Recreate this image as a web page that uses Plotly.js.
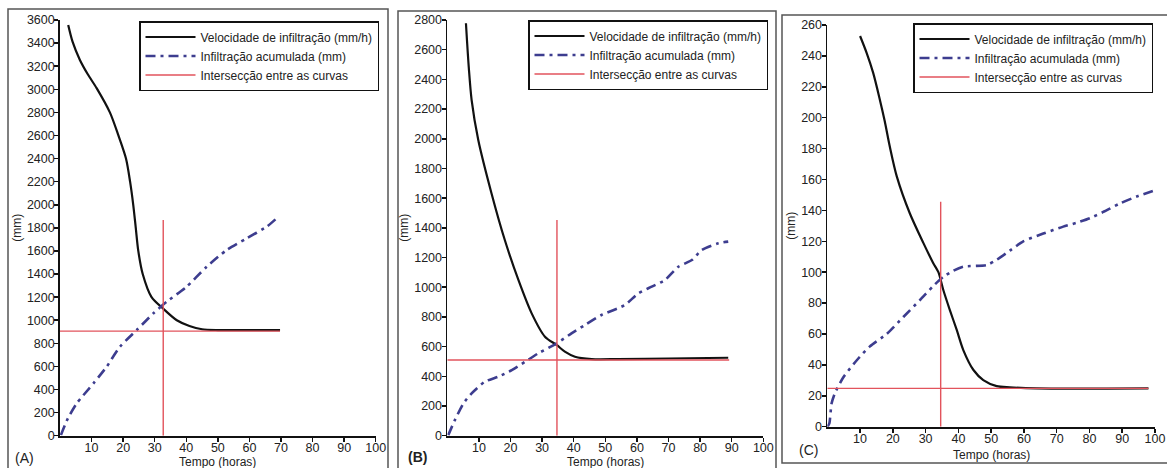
<!DOCTYPE html>
<html>
<head>
<meta charset="utf-8">
<script src="https://cdn.plot.ly/plotly-3.0.1.min.js"></script>
<style>html,body{margin:0;padding:0;background:#fff;}#chart{width:1167px;height:468px;}</style>
</head>
<body>
<div id="chart"></div>
<script>
// Panel A
const aVelX = [2.6, 4, 6.3, 8.8, 11.6, 15.8, 18.5, 20.9, 22.2, 23.2, 24, 24.8, 26.2, 29, 32.7, 37, 41, 45, 50, 60, 69.7];
const aVelY = [3557, 3410, 3254, 3130, 3010, 2800, 2600, 2400, 2200, 2000, 1800, 1600, 1400, 1200, 1100, 1000, 950, 922, 915, 915, 915];
const aCumX = [0.3, 2.5, 5.3, 10.6, 14.8, 19, 24.3, 29.6, 33.8, 40.1, 46.5, 52.8, 59.1, 65.5, 68.6];
const aCumY = [6, 150, 280, 453, 598, 771, 915, 1060, 1160, 1290, 1464, 1608, 1709, 1810, 1882];
const aCrossX = [0, 69.7, null, 32.7, 32.7];
const aCrossY = [906, 906, null, 0, 1868];
// Panel B
const bVelX = [5.9, 6.8, 7.7, 9.8, 14, 18.2, 22.5, 26.7, 30.9, 34.6, 37.2, 40.4, 45.7, 54.1, 70, 88.9];
const bVelY = [2778, 2480, 2261, 1992, 1632, 1318, 1049, 824, 667, 611, 566, 532, 516, 516, 520, 525];
const bCumX = [0.3, 2.4, 5.1, 7.7, 11.9, 16.1, 20.4, 24.6, 28.8, 34.6, 39.3, 43.6, 48.8, 56.2, 60.4, 64.7, 68.9, 73.1, 77.4, 80.5, 85.8, 88.9];
const bCumY = [4, 105, 218, 285, 364, 397, 442, 498, 555, 622, 689, 746, 813, 880, 958, 1004, 1049, 1138, 1183, 1250, 1296, 1307];
const bCrossX = [0, 89.2, null, 34.7, 34.7];
const bCrossY = [510, 510, null, 0, 1453];
// Panel C
const cVelX = [10, 12, 14, 16, 17.5, 19.1, 21.2, 25.2, 29.3, 32.3, 33.9, 35.4, 37.4, 39.5, 41.5, 44.6, 47.6, 51.7, 55.7, 63.9, 98];
const cVelY = [252.9, 242, 229, 212, 198, 181, 162, 138, 119, 106, 100, 88.5, 75.5, 62.6, 49.6, 36.7, 30.2, 26.3, 25.5, 24.8, 24.8];
const cCumX = [0, 0.6, 1.3, 2.3, 4.9, 9, 13, 18.1, 23.2, 28.3, 32.3, 35.4, 38.5, 41.5, 48.6, 51.7, 55.7, 59.8, 65.9, 72, 76.1, 80.2, 84.2, 89.3, 94.4, 100];
const cCumY = [0, 2, 15, 21.6, 32, 43, 52, 60, 71, 82, 91, 97, 101, 103.6, 104.6, 108, 114, 120, 125, 129.5, 132, 135, 139, 144.5, 149, 153];
const cCrossX = [0, 98, null, 34.6, 34.6];
const cCrossY = [24.8, 24.8, null, 0, 145.6];

const seriesNames = ['Velocidade de infiltração (mm/h)', 'Infiltração acumulada (mm)', 'Intersecção entre as curvas'];
const panelLabels = ['(A)', '<b>(B)</b>', '(C)'];
const xTitle = 'Tempo (horas)';
const yTitle = '(mm)';
const xTicks = [10, 20, 30, 40, 50, 60, 70, 80, 90, 100];

const W = 1167, H = 468;
const px = v => v / W, py = v => 1 - v / H;

const velStyle = {color: '#111111', width: 2.2, shape: 'spline', smoothing: 0.8};
const cumStyle = {color: '#3d3d8f', width: 2.6, dash: '10px,5px,3px,5px', shape: 'spline', smoothing: 0.6};
const crossStyle = {color: '#e2535c', width: 1.4};

const panels = [
  {velX: aVelX, velY: aVelY, cumX: aCumX, cumY: aCumY, crX: aCrossX, crY: aCrossY, xa: 'x', ya: 'y', lg: 'legend'},
  {velX: bVelX, velY: bVelY, cumX: bCumX, cumY: bCumY, crX: bCrossX, crY: bCrossY, xa: 'x2', ya: 'y2', lg: 'legend2'},
  {velX: cVelX, velY: cVelY, cumX: cCumX, cumY: cCumY, crX: cCrossX, crY: cCrossY, xa: 'x3', ya: 'y3', lg: 'legend3'}
];

const traces = [];
panels.forEach(p => {
  traces.push({x: p.velX, y: p.velY, type: 'scatter', mode: 'lines', name: seriesNames[0], line: velStyle, xaxis: p.xa, yaxis: p.ya, legend: p.lg, hoverinfo: 'skip'});
  traces.push({x: p.cumX, y: p.cumY, type: 'scatter', mode: 'lines', name: seriesNames[1], line: cumStyle, xaxis: p.xa, yaxis: p.ya, legend: p.lg, hoverinfo: 'skip'});
  traces.push({x: p.crX, y: p.crY, type: 'scatter', mode: 'lines', name: seriesNames[2], line: crossStyle, xaxis: p.xa, yaxis: p.ya, legend: p.lg, connectgaps: false, hoverinfo: 'skip'});
});

const font = {family: 'Liberation Sans, Arial, sans-serif', size: 12, color: '#222'};
const tickFont = {family: font.family, size: 12.5, color: '#222'};

function xAxis(d, anchor) {
  return {domain: d, anchor: anchor, range: [0, 100], tickvals: xTicks, ticks: 'outside', ticklen: 4, tickwidth: 1.5, tickcolor: '#111',
    ticklabelstandoff: -5,
    showline: true, linecolor: '#111', linewidth: 1.8, showgrid: false, zeroline: false, fixedrange: true,
    tickfont: tickFont};
}
function yAxis(d, anchor, max, step) {
  return {domain: d, anchor: anchor, range: [0, max], dtick: step, tick0: 0, ticks: 'outside', ticklen: 4, tickwidth: 1.5, tickcolor: '#111',
    ticklabelstandoff: -3,
    showline: true, linecolor: '#111', linewidth: 1.8, showgrid: false, zeroline: false, fixedrange: true,
    tickfont: tickFont, title: {text: yTitle, font: font, standoff: 3}};
}
function legendAt(x, y) {
  return {x: px(x), y: py(y), xanchor: 'left', yanchor: 'top', bgcolor: '#fff', bordercolor: '#111', borderwidth: 1.5,
    itemwidth: 50, font: {family: font.family, size: 12, color: '#222'}, tracegroupgap: 0};
}

const dA = [px(60), px(375.7)], dB = [px(447.3), px(763.3)], dC = [px(827.3), px(1155)];
const yAB = [py(435.7), py(20)], yC = [py(426.7), py(25)];

const borders = [[8, 9, 388, 475], [398, 11, 776, 475], [782, 15, 1175, 463]];
const shapes = borders.map(b => ({type: 'rect', xref: 'paper', yref: 'paper', x0: px(b[0]), x1: px(b[2]), y0: py(b[3]), y1: py(b[1]),
  line: {color: '#555', width: 1.5}, fillcolor: 'rgba(0,0,0,0)', layer: 'below'}));

const labelPos = [[24, 458], [417, 457], [808, 450]];
const annotations = labelPos.map((p, i) => ({text: panelLabels[i], xref: 'paper', yref: 'paper', x: px(p[0]), y: py(p[1]),
  xanchor: 'center', yanchor: 'middle', showarrow: false, font: {family: font.family, size: 14, color: '#222'}}));
// x-axis titles, placed under each panel's tick labels
const xTitleTops = [453.5, 453.5, 447];
['x', 'x2', 'x3'].forEach((xa, i) => {
  annotations.push({text: xTitle, xref: xa + ' domain', yref: 'paper', x: 0.5, y: py(xTitleTops[i]), xanchor: 'center', yanchor: 'top',
    showarrow: false, borderpad: 0, font: {family: font.family, size: 12, color: '#222'}});
});

const layout = {
  width: W, height: H, margin: {l: 0, r: 0, t: 0, b: 0}, paper_bgcolor: '#fff', plot_bgcolor: 'rgba(0,0,0,0)',
  font: font, showlegend: true,
  xaxis: xAxis(dA, 'y'), yaxis: yAxis(yAB, 'x', 3600, 200),
  xaxis2: xAxis(dB, 'y2'), yaxis2: yAxis(yAB, 'x2', 2800, 200),
  xaxis3: xAxis(dC, 'y3'), yaxis3: yAxis(yC, 'x3', 260, 20),
  legend: legendAt(139, 21), legend2: legendAt(528, 20), legend3: legendAt(913, 23),
  shapes: shapes, annotations: annotations
};

Plotly.newPlot('chart', traces, layout, {displayModeBar: false, staticPlot: true});
</script>
</body>
</html>
